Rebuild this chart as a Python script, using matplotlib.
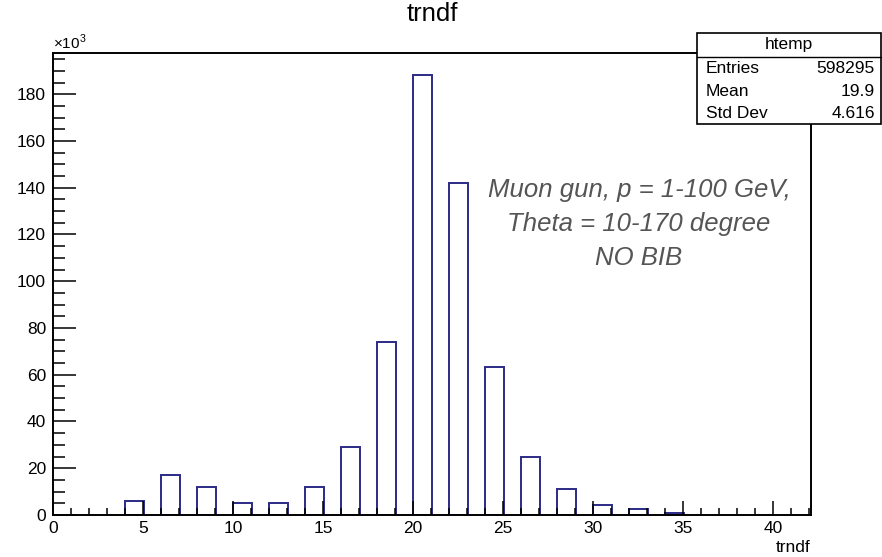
import matplotlib
matplotlib.use("Agg")
import matplotlib.pyplot as plt
from matplotlib.patches import Rectangle
from matplotlib.lines import Line2D
from matplotlib.ticker import MultipleLocator, FuncFormatter

plt.rcParams["font.family"] = ["Liberation Sans", "DejaVu Sans"]
plt.rcParams["mathtext.fontset"] = "custom"
plt.rcParams["mathtext.rm"] = "Liberation Sans"

# histogram contents (trndf, counts per bin)
bin_lows = [4, 6, 8, 10, 12, 14, 16, 18, 20, 22, 24, 26, 28, 30, 32, 34]
counts = [6000, 17100, 11900, 5100, 5100, 11900, 29300, 74000,
          188100, 141900, 63300, 24700, 11100, 4300, 2400, 700]
bin_width = 1.05

stats_labels = ["Entries", "Mean", "Std Dev"]
stats_values = ["598295", "19.9", "4.616"]
note_lines = ["Muon gun, p = 1-100 GeV,", "Theta = 10-170 degree", "NO BIB"]

W, H = 882, 557
fig = plt.figure(figsize=(W / 100, H / 100), dpi=100)


def fx(px):
    return px / W


def fy(py):
    return 1 - py / H


ax_l, ax_r, ax_t, ax_b = 53, 811, 53.3, 515
ax = fig.add_axes([fx(ax_l), fy(ax_b), fx(ax_r - ax_l), (ax_b - ax_t) / H])

line_color = "#2b2b85"
ax.bar(bin_lows, counts, width=bin_width, align="edge", fill=False,
       edgecolor=line_color, linewidth=1.4)

ax.set_xlim(0, 42.1)
ax.set_ylim(0, 1.05 * max(counts))

ax.xaxis.set_major_locator(MultipleLocator(5))
ax.xaxis.set_minor_locator(MultipleLocator(1))
ax.yaxis.set_major_locator(MultipleLocator(20000))
ax.yaxis.set_minor_locator(MultipleLocator(5000))
ax.yaxis.set_major_formatter(FuncFormatter(lambda v, p: f"{v / 1000:g}"))

ax.tick_params(axis="both", which="both", direction="in", colors="black",
               labelsize=12.5, width=1.1)
ax.tick_params(axis="x", which="major", length=10, pad=4)
ax.tick_params(axis="x", which="minor", length=5)
ax.tick_params(axis="y", which="major", length=16.5, pad=5)
ax.tick_params(axis="y", which="minor", length=8.5)
for s in ax.spines.values():
    s.set_linewidth(1.4)

ax.text(0, 1.003, r"$\times10^{3}$", transform=ax.transAxes, ha="left",
        va="bottom", fontsize=11)

fig.text(fx(432), fy(14), "trndf", ha="center", va="center", fontsize=18.5)
fig.text(fx(810), fy(548), "trndf", ha="right", va="center", fontsize=12.5)

for i, line in enumerate(note_lines):
    fig.text(fx(639), fy(190 + 34 * i), line, ha="center", va="center",
             fontsize=18.5, style="italic", color="#555555")

# stats box
bx_l, bx_r, bx_t, bx_b = 697, 881, 33.3, 124.3
fig.patches.append(Rectangle((fx(bx_l), fy(bx_b)), fx(bx_r - bx_l),
                             (bx_b - bx_t) / H, transform=fig.transFigure,
                             facecolor="white", edgecolor="black",
                             linewidth=1.2, zorder=5))
fig.lines.append(Line2D([fx(bx_l), fx(bx_r)], [fy(57), fy(57)],
                        transform=fig.transFigure, color="black",
                        linewidth=1.0, zorder=6))
fig.text(fx((bx_l + bx_r) / 2), fy(45), "htemp", ha="center", va="center",
         fontsize=12.5, zorder=7)
for i, (lab, val) in enumerate(zip(stats_labels, stats_values)):
    yy = fy(68.5 + 22.5 * i)
    fig.text(fx(706), yy, lab, ha="left", va="center", fontsize=12.5, zorder=7)
    fig.text(fx(875), yy, val, ha="right", va="center", fontsize=12.5, zorder=7)

fig.savefig("out.png", dpi=100)
